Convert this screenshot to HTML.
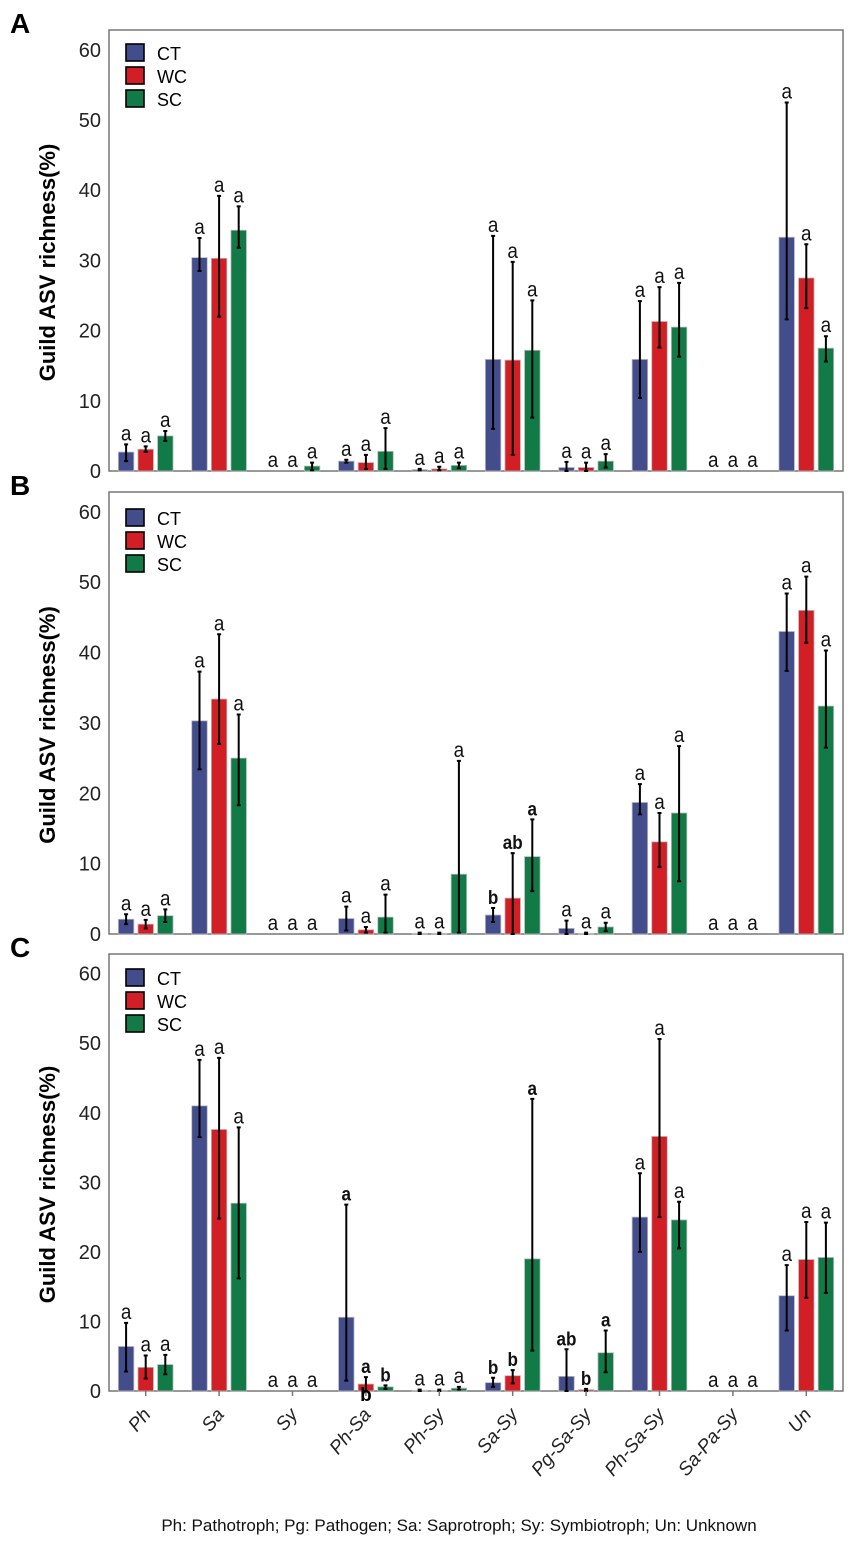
<!DOCTYPE html>
<html><head><meta charset="utf-8"><style>
body{margin:0;background:#fff}
svg{display:block;font-family:"Liberation Sans",sans-serif}
</style></head><body>
<svg id="chart" width="854" height="1542"></svg>
<script>
const categories=["Ph","Sa","Sy","Ph-Sa","Ph-Sy","Sa-Sy","Pg-Sa-Sy","Ph-Sa-Sy","Sa-Pa-Sy","Un"];
const series=["CT","WC","SC"];
const colors=["#434d8c","#d21f26","#127a46"];
const yTicks=[0,10,20,30,40,50,60];
// Panel A
const aCT=[2.7,30.4,0,1.4,0.2,15.9,0.5,15.9,0,33.3];
const aWC=[3.1,30.3,0,1.2,0.3,15.8,0.5,21.3,0,27.5];
const aSC=[5.0,34.3,0.7,2.8,0.8,17.2,1.4,20.5,0,17.5];
const aCTlo=[1.4,28.5,0,1.2,0.1,6.0,0,10.4,0,21.6];
const aCThi=[3.8,33.2,0,1.6,0.3,33.5,1.3,24.2,0,52.5];
const aWClo=[2.7,22.0,0,0.3,0.1,2.3,0,17.6,0,23.2];
const aWChi=[3.5,39.2,0,2.3,0.6,29.8,1.2,26.2,0,32.3];
const aSClo=[4.3,31.8,0.1,0.3,0.4,7.6,0.5,16.3,0,15.6];
const aSChi=[5.7,37.7,1.2,6.1,1.2,24.3,2.4,26.8,0,19.2];
const aLetters=[["a","a","a"],["a","a","a"],["a","a","a"],["a","a","a"],["a","a","a"],["a","a","a"],["a","a","a"],["a","a","a"],["a","a","a"],["a","a","a"]];
// Panel B
const bCT=[2.1,30.3,0,2.2,0.1,2.7,0.8,18.7,0,43.0];
const bWC=[1.4,33.4,0,0.6,0.1,5.1,0.1,13.1,0,46.0];
const bSC=[2.6,25.0,0,2.4,8.5,11.0,1.0,17.2,0,32.4];
const bCTlo=[1.4,23.4,0,0.5,0,1.7,0,17.0,0,37.4];
const bCThi=[2.8,37.3,0,3.9,0.2,3.7,1.9,21.3,0,48.4];
const bWClo=[0.8,27.0,0,0.2,0,0,0,9.5,0,41.4];
const bWChi=[2.0,42.6,0,1.0,0.2,11.5,0.2,17.2,0,50.8];
const bSClo=[1.7,18.3,0,0.2,0.2,6.1,0.4,7.5,0,26.5];
const bSChi=[3.5,31.2,0,5.6,24.6,16.3,1.6,26.7,0,40.3];
const bLetters=[["a","a","a"],["a","a","a"],["a","a","a"],["a","a","a"],["a","a","a"],["b","ab","a"],["a","a","a"],["a","a","a"],["a","a","a"],["a","a","a"]];
const bBold=[5];
// Panel C
const cCT=[6.4,41.0,0,10.6,0.1,1.2,2.1,25.0,0,13.7];
const cWC=[3.4,37.6,0,1.0,0.1,2.2,0.2,36.6,0,18.9];
const cSC=[3.8,27.0,0,0.6,0.4,19.0,5.5,24.6,0,19.2];
const cCTlo=[2.8,36.5,0,1.5,0,0.6,0,20.0,0,8.7];
const cCThi=[9.8,47.6,0,26.8,0.2,1.9,6.0,31.3,0,18.1];
const cWClo=[1.8,24.8,0,0,0,1.1,0,25.0,0,13.4];
const cWChi=[5.1,47.9,0,2.0,0.2,3.0,0.3,50.6,0,24.3];
const cSClo=[2.4,16.2,0,0.3,0.2,5.8,2.7,20.5,0,14.1];
const cSChi=[5.2,37.9,0,0.8,0.6,42.0,8.7,27.2,0,24.2];
const cLetters=[["a","a","a"],["a","a","a"],["a","a","a"],["a","a","b"],["a","a","a"],["b","b","a"],["ab","b","a"],["a","a","a"],["a","a","a"],["a","a","a"]];
const cBold=[3,5,6];

const svg=document.getElementById('chart');
const NS='http://www.w3.org/2000/svg';
function mk(tag,attrs,parent){const e=document.createElementNS(NS,tag);for(const k in attrs)e.setAttribute(k,attrs[k]);(parent||svg).appendChild(e);return e;}

const X0=109,X1=843,YMAX=60;
const bandW=(X1-X0)/categories.length;
function xCenter(i){return X0+bandW*(i+0.5);}
const off=19.6,barW=15.5;

const panels=[
 {id:"A",top:30,zero:471,vals:[aCT,aWC,aSC],lo:[aCTlo,aWClo,aSClo],hi:[aCThi,aWChi,aSChi],letters:aLetters,bold:[],ly:44},
 {id:"B",top:492,zero:934,vals:[bCT,bWC,bSC],lo:[bCTlo,bWClo,bSClo],hi:[bCThi,bWChi,bSChi],letters:bLetters,bold:bBold,ly:509},
 {id:"C",top:954,zero:1391,vals:[cCT,cWC,cSC],lo:[cCTlo,cWClo,cSClo],hi:[cCThi,cWChi,cSChi],letters:cLetters,bold:cBold,ly:969}
];

panels.forEach(p=>{
  const y60=p.zero-(p.zero-p.top)*0.955;
  const pxPer=(p.zero-y60)/YMAX;
  const yS=v=>p.zero-v*pxPer;
  const g=mk('g',{});
  
  
  const lab=mk('text',{x:10,y:p.top+3,'font-size':28,'font-weight':'bold'},g);
  lab.textContent=p.id;
  
  
  const box=mk('rect',{x:X0,y:p.top,width:X1-X0,height:p.zero-p.top,fill:'none',stroke:'#777','stroke-width':1.5},g);
  
  
  yTicks.forEach(t=>{
    const tx=mk('text',{x:X0-8,y:yS(t)+7,'font-size':20,'text-anchor':'end',fill:'#222'},g);
    tx.textContent=t;
    
    
  });
  const yt=mk('text',{x:0,y:0,'font-size':22,'font-weight':'bold','text-anchor':'middle',transform:`translate(55,${(p.top+p.zero)/2+12}) rotate(-90)`},g);
  yt.textContent='Guild ASV richness(%)';
  
  
  categories.forEach((c,i)=>{
    for(let s=0;s<3;s++){
      const cx=xCenter(i)+(s-1)*off;
      const v=p.vals[s][i];
      const r=mk('rect',{x:cx-barW/2,y:yS(v),width:barW,height:Math.max(0,v*pxPer),fill:colors[s],stroke:'#bbb','stroke-width':0.8},g);
      
      
      const lo=p.lo[s][i],hi=p.hi[s][i];
      if(hi>lo){
        const eb=mk('path',{d:`M${cx},${yS(lo)}V${yS(hi)}M${cx-2},${yS(lo)}H${cx+2}M${cx-2},${yS(hi)}H${cx+2}`,stroke:'#000','stroke-width':2,fill:'none'},g);
        
        
      }
      const bold=p.bold.includes(i);
      const lt=mk('text',{x:cx,y:yS(Math.max(hi,v))-4,'font-size':bold?19:21,'font-weight':bold?'bold':'normal','text-anchor':'middle',fill:'#111',transform:`translate(${cx},0) scale(0.9,1) translate(${-cx},0)`},g);
      lt.textContent=p.letters[i][s];
      
      
    }
  });
  series.forEach((s,k)=>{
    const ly=p.ly+k*23;
    const sq=mk('rect',{x:126,y:ly,width:18,height:17,fill:colors[k],stroke:'#000','stroke-width':1.6},g);
    
    
    const t=mk('text',{x:157,y:ly+16,'font-size':18},g);
    t.textContent=s;
    
    
  });
  if(p.id==="C"){
    categories.forEach((c,i)=>{
      const tk=mk('line',{x1:xCenter(i),x2:xCenter(i),y1:p.zero,y2:p.zero+5,stroke:'#777','stroke-width':1.5},g);
      
      
      const t=mk('text',{x:0,y:0,'font-size':19,'text-anchor':'end','font-style':'italic',fill:'#222',transform:`translate(${xCenter(i)+6},${p.zero+24}) rotate(-50)`},g);
      t.textContent=c;
      
      
    });
  }
});
const pc=panels[2];
const xb=mk('text',{x:xCenter(3),y:pc.zero+10,'font-size':19,'font-weight':'bold','text-anchor':'middle'});
xb.textContent='b';


const fn=mk('text',{x:459,y:1531,'font-size':17,'text-anchor':'middle',fill:'#111'});
fn.textContent='Ph: Pathotroph;  Pg: Pathogen;  Sa: Saprotroph;  Sy: Symbiotroph;  Un: Unknown';


</script>
</body></html>
